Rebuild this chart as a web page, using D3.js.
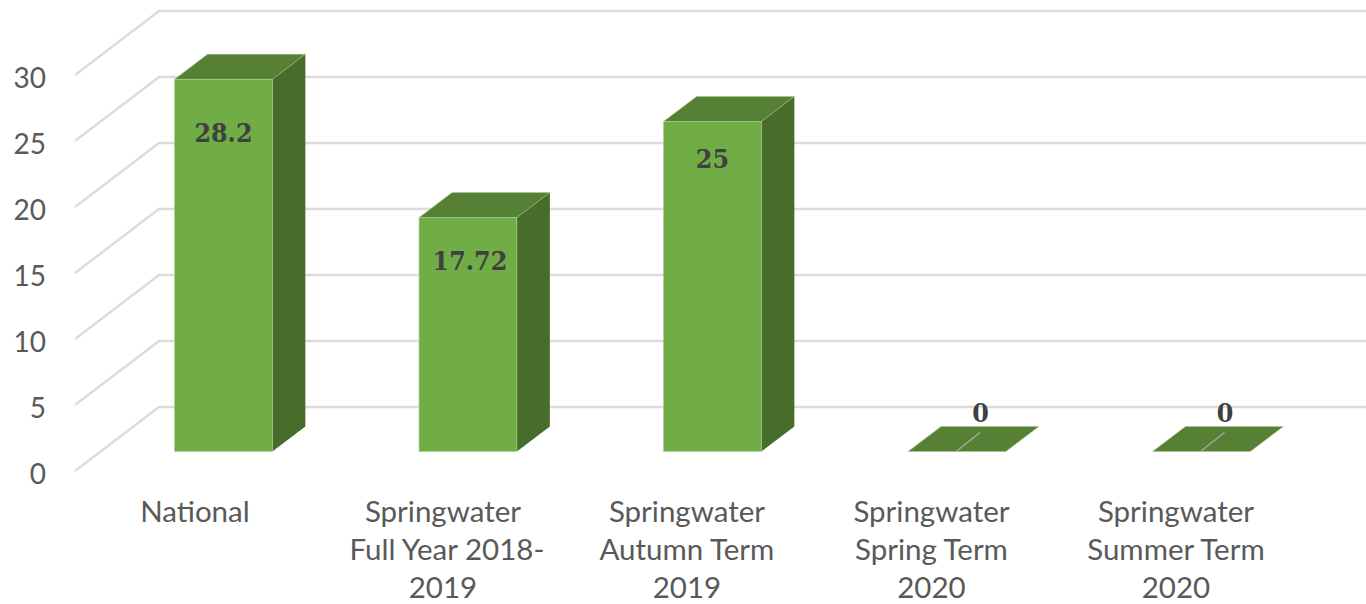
<!DOCTYPE html>
<html>
<head>
<meta charset="utf-8">
<script src="https://cdn.jsdelivr.net/npm/d3@7"></script>
<style>
    html, body { margin: 0; padding: 0; background: #fff; }
    svg { display: block; }
    .tick-label, .cat-label { font-family: Lato, "Open Sans", sans-serif; fill: #595959; }
    .value-label { font-family: "DejaVu Serif Condensed", "DejaVu Serif", serif; font-weight: bold; fill: #404040; }
</style>
</head>
<body>
<svg id="chart"></svg>
<script>
// 3D column chart
const categories = ["National", "Springwater Full Year", "Springwater Autumn", "Springwater Spring", "Springwater Summer"];
const categoryLines = [
    ["National"],
    ["Springwater", "Full Year 2018-", "2019"],
    ["Springwater", "Autumn Term", "2019"],
    ["Springwater", "Spring Term", "2020"],
    ["Springwater", "Summer Term", "2020"]
];
const values = [28.2, 17.72, 25, 0, 0];
const valueLabels = ["28.2", "17.72", "25", "0", "0"];
const yTicks = [0, 5, 10, 15, 20, 25, 30];

const width = 1366;
const height = 604;

// the chart is a box seen at an angle, every plane is the front one shifted
const wall = { dx: 84, dy: -64 };
const barPlane = { dx: 25.5, dy: -19.5 };
const barDepth = { dx: 33, dy: -25 };

// hand placed labels in the original (dx, dy from bar front top)
const labelNudge = [[0, 53], [2, 43], [0, 37], [23.5, -39], [23.5, -39]];
// same thing for the category labels
const catNudge = [-3, 0.5, 0, 0, 0];

const svg = d3.select("#chart")
    .attr("width", width)
    .attr("height", height);

const y = d3.scaleLinear().domain([0, 30]).range([471, 75]);

const x = d3.scaleBand()
    .domain(categories)
    .range([75.7, 1298.2])
    .paddingInner(0.6)
    .paddingOuter(0.3);

// Gridlines
const grid = svg.append("g").attr("fill", "none").attr("stroke", "#dcdcdc").attr("stroke-width", 2.5);
grid.selectAll("polyline")
    .data(yTicks)
    .enter()
    .append("polyline")
    .attr("points", d => `75,${y(d)} ${75 + wall.dx},${y(d) + wall.dy} ${width},${y(d) + wall.dy}`);

// Value axis, only the labels are visible
const axis = svg.append("g")
    .attr("transform", "translate(46,0)")
    .call(d3.axisLeft(y).tickValues(yTicks).tickSize(0).tickPadding(0));
axis.select(".domain").remove();
axis.selectAll("text")
    .attr("class", "tick-label")
    .attr("font-size", 28)
    .attr("font-family", null)
    .attr("y", 4);

const points = arr => arr.map(p => p.join(",")).join(" ");

// Bars
const bars = svg.selectAll(".bar")
    .data(categories.map((c, i) => ({ cat: c, value: values[i], i: i })))
    .enter()
    .append("g")
    .attr("class", "bar")
    .attr("transform", `translate(${barPlane.dx},${barPlane.dy})`);

const x0 = d => x(d.cat);
const x1 = d => x(d.cat) + x.bandwidth();

bars.filter(d => d.value > 0).append("polygon") // side
    .attr("fill", "#486c2a")
    .attr("points", d => points([
        [x1(d), y(d.value)],
        [x1(d) + barDepth.dx, y(d.value) + barDepth.dy],
        [x1(d) + barDepth.dx, y(0) + barDepth.dy],
        [x1(d), y(0)]
    ]));

bars.append("polygon") // top
    .attr("fill", "#568135")
    .attr("stroke", "#a9c48f")
    .attr("stroke-width", 0.5)
    .attr("points", d => points([
        [x0(d), y(d.value)],
        [x1(d), y(d.value)],
        [x1(d) + barDepth.dx, y(d.value) + barDepth.dy],
        [x0(d) + barDepth.dx, y(d.value) + barDepth.dy]
    ]));

bars.filter(d => d.value > 0).append("rect") // front
    .attr("fill", "#70ad47")
    .attr("stroke", "#a9d08e")
    .attr("stroke-width", 0.6)
    .attr("x", x0)
    .attr("y", d => y(d.value))
    .attr("width", x.bandwidth())
    .attr("height", d => y(0) - y(d.value));

// Leader lines for the zero bars
bars.filter(d => d.value === 0).append("line")
    .attr("stroke", "#a6a6a6")
    .attr("stroke-width", 1.5)
    .attr("x1", d => x0(d) + 48)
    .attr("y1", y(0))
    .attr("x2", d => x0(d) + 72)
    .attr("y2", y(0) - 19);

// Value labels
svg.selectAll(".value-label")
    .data(categories)
    .enter()
    .append("text")
    .attr("class", "value-label")
    .attr("font-size", 26.5)
    .attr("text-anchor", "middle")
    .attr("dominant-baseline", "central")
    .attr("x", (c, i) => x(c) + barPlane.dx + x.bandwidth() / 2 + labelNudge[i][0])
    .attr("y", (c, i) => y(values[i]) + barPlane.dy + labelNudge[i][1])
    .text((c, i) => valueLabels[i]);

// Category labels
const catLabels = svg.selectAll(".cat-label")
    .data(categories)
    .enter()
    .append("text")
    .attr("class", "cat-label")
    .attr("font-size", 29.5)
    .attr("text-anchor", "middle");

// the line that breaks on a hyphen sits a little to the right
catLabels.selectAll("tspan")
    .data((c, i) => categoryLines[i].map(t => ({ t: t, cx: x(c) + x.bandwidth() / 2 + catNudge[i] + (t.endsWith("-") ? 4 : 0) })))
    .enter()
    .append("tspan")
    .attr("x", d => d.cx)
    .attr("y", (d, i) => 522 + i * 38)
    .text(d => d.t);
</script>
</body>
</html>
